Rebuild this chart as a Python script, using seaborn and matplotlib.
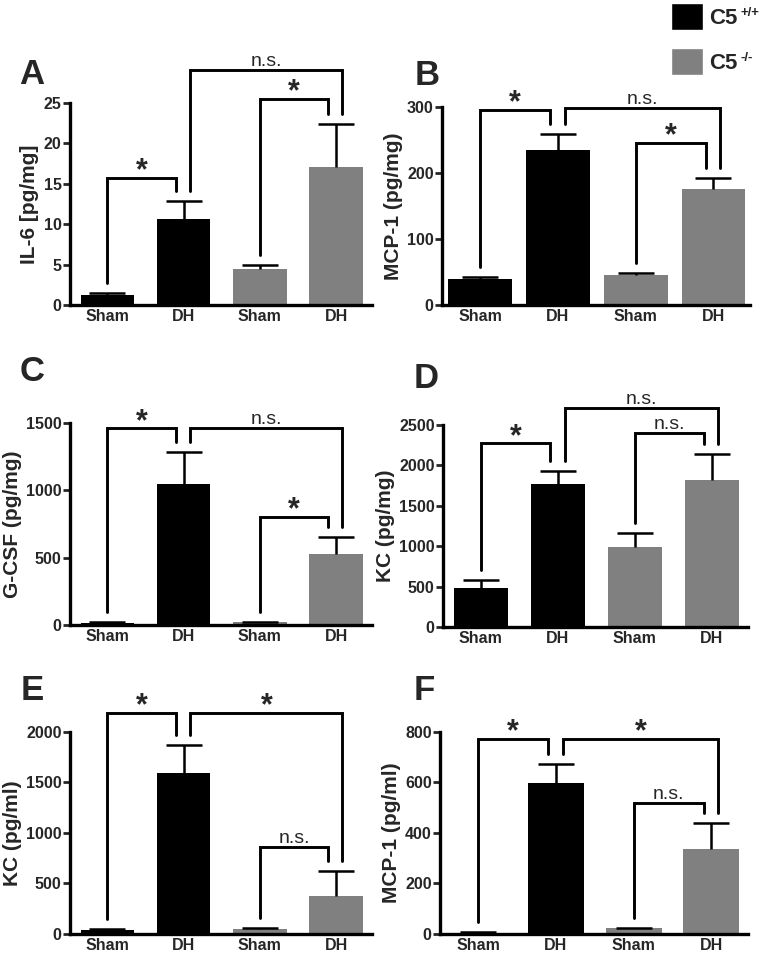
import seaborn as sns
import matplotlib.pyplot as plt
import pandas as pd
from matplotlib.patches import Patch

# group labels shared by all panels
groups = ["Sham", "DH", "Sham", "DH"]
genotype = ["C5 +/+", "C5 +/+", "C5 -/-", "C5 -/-"]
bar_id = ["Sham_wt", "DH_wt", "Sham_ko", "DH_ko"]

# means and SEM
il6_mean = [1.2, 10.6, 4.4, 17.1]
il6_sem = [0.3, 2.3, 0.5, 5.3]
mcp1_tissue_mean = [40, 235, 45, 176]
mcp1_tissue_sem = [3, 24, 4, 17]
gcsf_mean = [15, 1045, 20, 527]
gcsf_sem = [5, 242, 5, 124]
kc_tissue_mean = [479, 1770, 994, 1823]
kc_tissue_sem = [103, 165, 173, 318]
kc_plasma_mean = [40, 1591, 45, 376]
kc_plasma_sem = [10, 280, 15, 251]
mcp1_plasma_mean = [5, 597, 22, 337]
mcp1_plasma_sem = [2, 76, 2, 104]

# significance brackets: (from bar, to bar, height, label)
brackets_a = [(0, 1, 15.7, "*"), (2, 3, 25.5, "*"), (1, 3, 29.1, "n.s.")]
brackets_b = [(0, 1, 296, "*"), (1, 3, 298, "n.s."), (2, 3, 245, "*")]
brackets_c = [(0, 1, 1460, "*"), (1, 3, 1460, "n.s."), (2, 3, 804, "*")]
brackets_d = [(0, 1, 2273, "*"), (1, 3, 2714, "n.s."), (2, 3, 2397, "n.s.")]
brackets_e = [(0, 1, 2185, "*"), (1, 3, 2185, "*"), (2, 3, 858, "n.s.")]
brackets_f = [(0, 1, 771, "*"), (1, 3, 771, "*"), (2, 3, 520, "n.s.")]

# leg offsets so brackets meeting on the same bar don't overlap
leg_offset = {(0, 1): (0.0, -0.1), (1, 3): (0.09, 0.08), (2, 3): (0.0, -0.1)}

legend_names = ["C5", "C5"]
legend_sup = ["+/+", "-/-"]

sns.set_style("white")
plt.rcParams['font.family'] = ['Liberation Sans', 'DejaVu Sans']

palette = {"C5 +/+": "black", "C5 -/-": "#808080"}

panels = [
    ("A", il6_mean, il6_sem, "IL-6 [pg/mg]", 25, 5, brackets_a, [0.0917, 0.682, 0.3958, 0.2106], 0.70),
    ("B", mcp1_tissue_mean, mcp1_tissue_sem, "MCP-1 (pg/mg)", 300, 100, brackets_b, [0.5793, 0.682, 0.4037, 0.2065], 0.82),
    ("C", gcsf_mean, gcsf_sem, "G-CSF (pg/mg)", 1500, 500, brackets_c, [0.0917, 0.3483, 0.3958, 0.2106], 0.70),
    ("D", kc_tissue_mean, kc_tissue_sem, "KC (pg/mg)", 2500, 500, brackets_d, [0.5806, 0.3462, 0.3997, 0.2106], 0.70),
    ("E", kc_plasma_mean, kc_plasma_sem, "KC (pg/ml)", 2000, 500, brackets_e, [0.0917, 0.0261, 0.3958, 0.2106], 0.70),
    ("F", mcp1_plasma_mean, mcp1_plasma_sem, "MCP-1 (pg/ml)", 800, 200, brackets_f, [0.5767, 0.0261, 0.4037, 0.2106], 0.72),
]
letter_pos = {"A": (0.042, 0.922), "B": (0.560, 0.921), "C": (0.042, 0.613),
              "D": (0.558, 0.605), "E": (0.042, 0.280), "F": (0.556, 0.280)}

fig = plt.figure(figsize=(7.63, 9.59), dpi=100)

for letter, mean, sem, ylabel, ymax, step, brackets, rect, width in panels:
    ax = fig.add_axes(rect)
    df = pd.DataFrame({"bar": bar_id, "value": mean, "genotype": genotype})
    sns.barplot(data=df, x="bar", y="value", hue="genotype", palette=palette,
                order=bar_id, width=width, linewidth=0, errorbar=None,
                legend=False, ax=ax)
    # SEM drawn upward only, no cap at the bar top
    eb = ax.errorbar(range(4), mean, yerr=[[0] * 4, sem], fmt='none', ecolor='black',
                     elinewidth=1.8, capsize=13, capthick=1.8, zorder=3)
    eb[1][0].set_visible(False)

    pad = 0.05 * ymax
    for i, j, level, label in brackets:
        dl, dr = leg_offset[(i, j)]
        yl = mean[i] + sem[i] + pad
        yr = mean[j] + sem[j] + pad
        ax.plot([i + dl, i + dl, j + dr, j + dr], [yl, level, level, yr],
                color='black', lw=2.1, clip_on=False, solid_joinstyle='miter')
        xc = (i + dl + j + dr) / 2
        if label == "*":
            ax.annotate(label, (xc, level), xytext=(0, -1), textcoords='offset points',
                        ha='center', va='baseline', fontsize=22, fontweight='bold',
                        annotation_clip=False)
        else:
            ax.annotate(label, (xc, level), xytext=(0, 3), textcoords='offset points',
                        ha='center', va='baseline', fontsize=14, annotation_clip=False)

    ax.set_xlim(-0.49, 3.47)
    ax.set_ylim(0, ymax)
    ax.set_yticks(range(0, ymax + 1, step))
    ax.set_xticks(range(4))
    ax.set_xticklabels(groups)
    ax.set_xlabel("")
    ax.set_ylabel(ylabel, fontsize=15, fontweight='bold', labelpad=3)
    sns.despine(ax=ax)
    for side in ['left', 'bottom']:
        ax.spines[side].set_linewidth(2.4)
        ax.spines[side].set_color('black')
    ax.tick_params(axis='y', length=5, width=2, direction='out', labelsize=11.5, pad=1, left=True)
    ax.tick_params(axis='x', length=0, labelsize=11.5, pad=3)
    for t in ax.get_xticklabels() + ax.get_yticklabels():
        t.set_fontweight('bold')

    lx, ly = letter_pos[letter]
    fig.text(lx, ly, letter, fontsize=25, fontweight='bold', ha='center', va='center')

# legend: squares + bold "C5", superscript genotype added next to each label
handles = [Patch(facecolor='black'), Patch(facecolor='#808080')]
leg = fig.legend(handles, legend_names, loc='upper left', bbox_to_anchor=(0.876, 0.999),
                 frameon=False, borderpad=0, borderaxespad=0.1, handlelength=1.45,
                 handleheight=1.45, handletextpad=0.3, labelspacing=0.85,
                 prop={'size': 16, 'weight': 'bold'})
fig.canvas.draw()
inv = fig.transFigure.inverted()
for txt, sup in zip(leg.get_texts(), legend_sup):
    bb = txt.get_window_extent()
    x0, y0 = inv.transform((bb.x1 + 3, bb.y1 + 1))
    fig.text(x0, y0, sup, fontsize=9.5, fontweight='bold', ha='left', va='top')

fig.savefig("out.png", dpi=100)
